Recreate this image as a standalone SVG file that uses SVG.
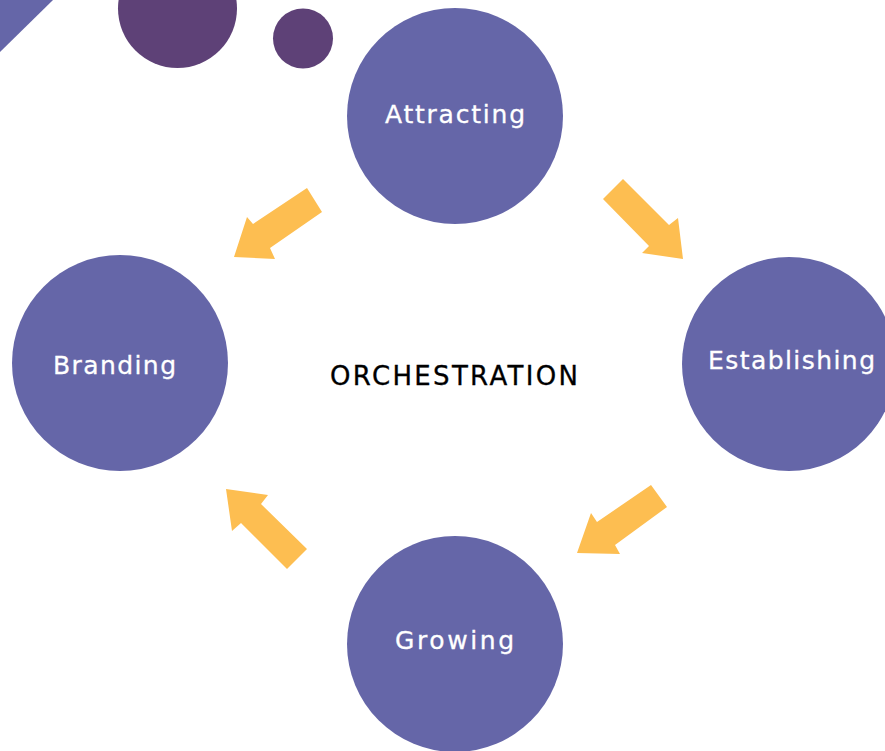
<svg xmlns="http://www.w3.org/2000/svg" width="885" height="751" viewBox="0 0 885 751">
<style>
.node{fill:#6566A8}
.deco{fill:#5E4177}
.arrow{fill:#FDBE51}
.lbl{font-family:"DejaVu Sans","Liberation Sans",sans-serif;font-size:25px;fill:#FFFFFF;stroke:#FFFFFF;stroke-width:0.3;text-anchor:middle}
.title{font-family:"DejaVu Sans","Liberation Sans",sans-serif;font-size:26px;fill:#000000;stroke:#000000;stroke-width:0.3;text-anchor:middle}
</style>
<rect width="885" height="751" fill="#FFFFFF"/>
<g id="decor">
<polygon points="0,0 53,0 0,52" fill="#6566A8"/>
<circle class="deco" cx="177.5" cy="8.5" r="59.5"/>
<circle class="deco" cx="303" cy="38.5" r="30"/>
</g>
<g id="connectors">
<polygon class="arrow" points="234,257 247,217 253,224 307,188 322,212 270,248 275,259"/>
<polygon class="arrow" points="623,179 669,225 678,218 683,259 642,253 649,246 603,199"/>
<polygon class="arrow" points="651,485 667,507 615,545 620,554 577,553 591,513 597,522"/>
<polygon class="arrow" points="226,489 268,495 261,504 307,549 287,569 241,523 232,531"/>
</g>
<g id="attracting">
<circle class="node" cx="455" cy="116" r="108"/>
<text class="lbl" x="455" y="123" textLength="140">Attracting</text>
</g>
<g id="branding">
<circle class="node" cx="120" cy="363" r="108"/>
<text class="lbl" x="114.5" y="374" textLength="123">Branding</text>
</g>
<g id="establishing">
<circle class="node" cx="789" cy="364" r="107"/>
<text class="lbl" x="791.5" y="369" textLength="167">Establishing</text>
</g>
<g id="growing">
<circle class="node" cx="455" cy="644" r="108"/>
<text class="lbl" x="454.5" y="649" textLength="119">Growing</text>
</g>
<g id="orchestration">
<text class="title" x="454" y="385" textLength="248">ORCHESTRATION</text>
</g>
</svg>
